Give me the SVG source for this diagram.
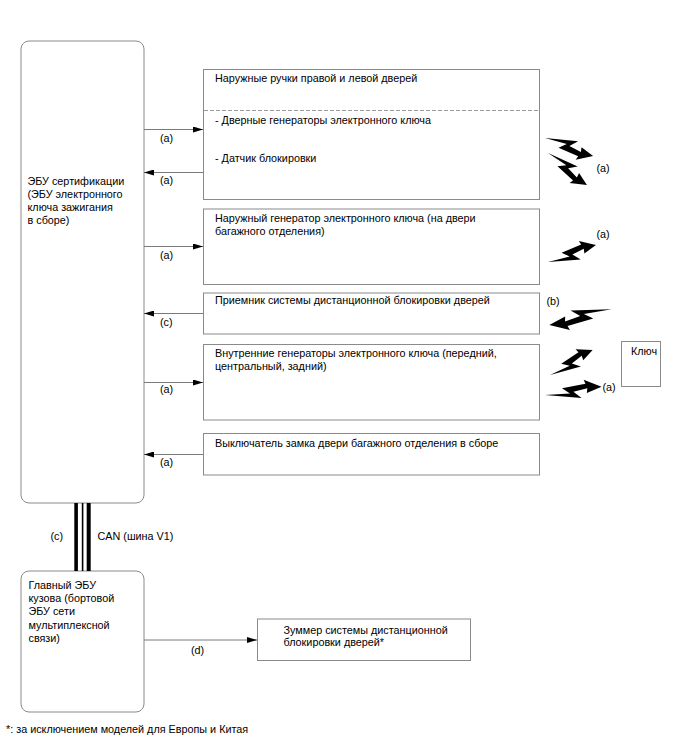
<svg xmlns="http://www.w3.org/2000/svg" xmlns:xlink="http://www.w3.org/1999/xlink" width="688" height="755" viewBox="0 0 688 755">
<style>
text{font-family:"Liberation Sans",Arial,sans-serif;font-size:10.8px;fill:#000}
.box{fill:#fff;stroke:#8a8a8a;stroke-width:1}
.con{stroke:#7a7a7a;stroke-width:1;fill:none;marker-end:url(#ah)}
.dash{stroke:#9a9a9a;stroke-width:1;stroke-dasharray:4,2}
.bolt{fill:#000}
</style>
<defs>
<marker id="ah" viewBox="0 0 10 6" refX="10" refY="3" markerWidth="10" markerHeight="6" orient="auto" markerUnits="userSpaceOnUse"><path d="M0,0 L10,3 L0,6 z" fill="#000"/></marker>
<path id="bolt" d="M0,0 L30,8 L24,1 L36,-0.5 L35,4 L48,0 L34,-9 L35,-5 L15,-4 L21,2 Z"/>
</defs>
<rect width="688" height="755" fill="#fff"/>

<g id="ecu-cert">
<rect class="box" x="21" y="41" width="123" height="462" rx="8"/>
<text x="27.5" y="185">ЭБУ сертификации</text>
<text x="27.5" y="198">(ЭБУ электронного</text>
<text x="27.5" y="210.5">ключа зажигания</text>
<text x="27.5" y="223.5">в сборе)</text>
</g>

<g id="door-handles">
<rect class="box" x="203.5" y="69.5" width="336" height="130"/>
<line class="dash" x1="204" y1="110.5" x2="539" y2="110.5"/>
<text x="215" y="81.5">Наружные ручки правой и левой дверей</text>
<text x="215" y="124">- Дверные генераторы электронного ключа</text>
<text x="215" y="161.5">- Датчик блокировки</text>
</g>

<g id="outer-gen">
<rect class="box" x="203.5" y="209" width="336" height="75.5"/>
<text x="215" y="221.5">Наружный генератор электронного ключа (на двери</text>
<text x="215" y="234.5">багажного отделения)</text>
</g>

<g id="receiver">
<rect class="box" x="203.5" y="293" width="336" height="41"/>
<text x="215" y="304">Приемник системы дистанционной блокировки дверей</text>
</g>

<g id="inner-gen">
<rect class="box" x="203.5" y="344.5" width="336" height="75.5"/>
<text x="215" y="357">Внутренние генераторы электронного ключа (передний,</text>
<text x="215" y="370">центральный, задний)</text>
</g>

<g id="lock-switch">
<rect class="box" x="203.5" y="433.5" width="336" height="41.5"/>
<text x="215" y="446.5">Выключатель замка двери багажного отделения в сборе</text>
</g>

<g id="key">
<rect class="box" x="621.5" y="341.5" width="39" height="45"/>
<text x="631" y="355">Ключ</text>
</g>

<g id="body-ecu">
<rect class="box" x="21" y="571" width="123" height="141" rx="8"/>
<text x="28.5" y="588.5">Главный ЭБУ</text>
<text x="28.5" y="601.5">кузова (бортовой</text>
<text x="28.5" y="615">ЭБУ сети</text>
<text x="28.5" y="628.5">мультиплексной</text>
<text x="28.5" y="641.5">связи)</text>
</g>

<g id="buzzer">
<rect class="box" x="257.5" y="619" width="213" height="41.5"/>
<text x="283.5" y="634">Зуммер системы дистанционной</text>
<text x="283.5" y="646">блокировки дверей*</text>
</g>

<g id="connectors">
<line class="con" x1="144" y1="129.5" x2="203" y2="129.5"/>
<line class="con" x1="203" y1="172.5" x2="144" y2="172.5"/>
<line class="con" x1="144" y1="246.5" x2="203" y2="246.5"/>
<line class="con" x1="203" y1="313.5" x2="144" y2="313.5"/>
<line class="con" x1="144" y1="382.5" x2="203" y2="382.5"/>
<line class="con" x1="203" y1="454.5" x2="144" y2="454.5"/>
<line class="con" x1="144" y1="640" x2="257" y2="640"/>
<rect x="74.3" y="503" width="3.6" height="68" fill="#000"/>
<rect x="81.8" y="503" width="1.6" height="68" fill="#000"/>
<rect x="86.7" y="503" width="4" height="68" fill="#000"/>
</g>

<g id="labels">
<text x="160" y="141.5">(a)</text>
<text x="160" y="183.5">(a)</text>
<text x="160" y="258.5">(a)</text>
<text x="160" y="325.5">(c)</text>
<text x="160" y="393">(a)</text>
<text x="160" y="465.5">(a)</text>
<text x="191" y="653.5">(d)</text>
<text x="50.5" y="540">(c)</text>
<text x="97.5" y="540">CAN (шина V1)</text>
<text x="596.5" y="172">(a)</text>
<text x="596.5" y="237.5">(a)</text>
<text x="546.5" y="305">(b)</text>
<text x="602.5" y="391">(a)</text>
<text x="6" y="733">*: за исключением моделей для Европы и Китая</text>
</g>

<g id="bolts">
<use href="#bolt" class="bolt" transform="translate(545,138) rotate(20.6) scale(1.07,-1.07)"/>
<use href="#bolt" class="bolt" transform="translate(548,153) rotate(39.4) scale(1.05,-1.05)"/>
<use href="#bolt" class="bolt" transform="translate(548,262) rotate(-19.5) scale(1.06,1.06)"/>
<use href="#bolt" class="bolt" transform="translate(611.7,309.3) rotate(165.9) scale(1.34,1.1)"/>
<use href="#bolt" class="bolt" transform="translate(550,375) rotate(-30.4) scale(1.03,1.03)"/>
<use href="#bolt" class="bolt" transform="translate(545,395) rotate(-8.4) scale(1.19,1.05)"/>
</g>
</svg>
